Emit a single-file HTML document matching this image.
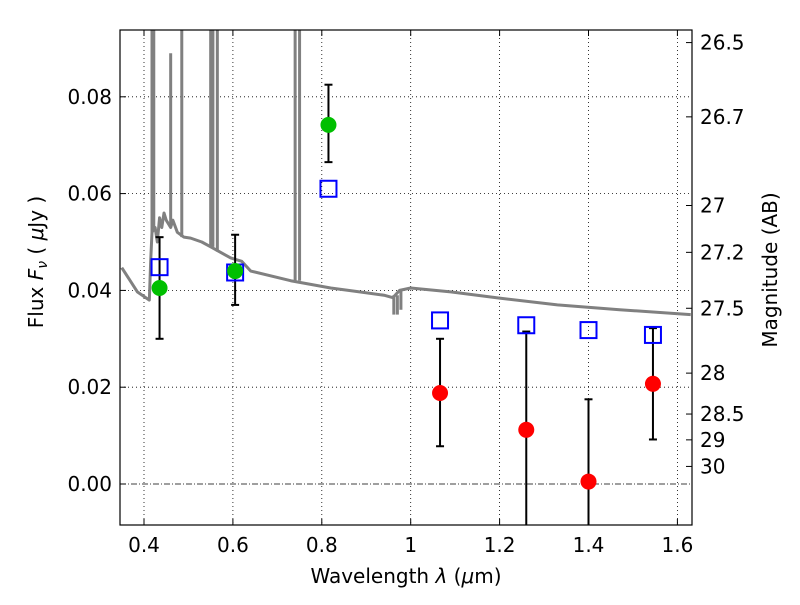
<!DOCTYPE html>
<html><head><meta charset="utf-8"><style>body{margin:0;background:#fff}svg text{font-family:"DejaVu Sans","Liberation Sans",sans-serif}</style></head>
<body>
<svg id="c" width="800" height="600"></svg>
<script>
const xTicks=[0.4,0.6,0.8,1.0,1.2,1.4,1.6];
const xTickLabels=["0.4","0.6","0.8","1","1.2","1.4","1.6"];
const yTicks=[0,0.02,0.04,0.06,0.08];
const yTickLabels=["0.00","0.02","0.04","0.06","0.08"];
const magTicks=[26.5,26.7,27,27.2,27.5,28,28.5,29,30];
const magTickLabels=["26.5","26.7","27","27.2","27.5","28","28.5","29","30"];
const specWave=[0.35,0.385,0.412,0.415,0.418,0.425,0.43,0.435,0.44,0.445,0.45,0.46,0.465,0.475,0.49,0.505,0.53,0.55,0.595,0.62,0.64,0.73,0.82,0.885,0.94,0.96,0.975,1.0,1.09,1.2,1.33,1.47,1.63];
const specFlux=[0.0447,0.0397,0.038,0.046,0.052,0.053,0.050,0.055,0.053,0.056,0.0545,0.053,0.0545,0.052,0.051,0.0508,0.050,0.049,0.0467,0.046,0.044,0.042,0.0405,0.0397,0.039,0.0385,0.040,0.0405,0.0397,0.0384,0.037,0.036,0.035];
const spikeWave=[0.418,0.422,0.46,0.485,0.55,0.555,0.565,0.74,0.75,0.962,0.97,0.978];
const spikeTop=[0.1,0.1,0.089,0.1,0.1,0.1,0.1,0.1,0.1,0.035,0.035,0.036];
const spikeBase=[0.052,0.053,0.053,0.051,0.049,0.049,0.048,0.042,0.042,0.039,0.039,0.040];
const greenWave=[0.435,0.605,0.815];
const greenFlux=[0.0405,0.044,0.0742];
const greenLo=[0.030,0.037,0.0665];
const greenHi=[0.051,0.0515,0.0825];
const redWave=[1.066,1.26,1.40,1.545];
const redFlux=[0.0188,0.0112,0.0005,0.0207];
const redLo=[0.0078,-0.012,-0.012,0.0092];
const redHi=[0.030,0.0315,0.0175,0.0322];
const modelWave=[0.435,0.605,0.815,1.066,1.26,1.40,1.545];
const modelFlux=[0.0448,0.0437,0.061,0.0338,0.0328,0.0318,0.0308];

const L=120,R=692,T=30,B=525;
const X=v=>144+(v-0.4)*444.5;
const Y=v=>484-v*4840;
const svg=document.getElementById('c');
const NS='http://www.w3.org/2000/svg';
function mk(tag,at,parent){const e=document.createElementNS(NS,tag);for(const k in at)e.setAttribute(k,at[k]);(parent||svg).appendChild(e);return e;}
const defs=mk('defs',{});const cp=mk('clipPath',{id:'clip'},defs);mk('rect',{x:L,y:T,width:R-L,height:B-T},cp);
const g=mk('g',{'clip-path':'url(#clip)'});


xTicks.forEach(v=>{const l=mk('line',{x1:X(v),x2:X(v),y1:T,y2:B,stroke:'#000','stroke-width':0.8,'stroke-dasharray':'1,3'},g);

});
yTicks.forEach(v=>{if(v===0)return;const l=mk('line',{x1:L,x2:R,y1:Y(v),y2:Y(v),stroke:'#000','stroke-width':0.8,'stroke-dasharray':'1,3'},g);

});
const z=mk('line',{x1:L,x2:R,y1:Y(0),y2:Y(0),stroke:'#000','stroke-width':0.8,'stroke-dasharray':'6,2,1,2'},g);


const sp=mk('polyline',{points:specWave.map((w,i)=>X(w)+','+Y(specFlux[i])).join(' '),fill:'none',stroke:'#808080','stroke-width':3,'stroke-linejoin':'round'},g);


spikeWave.forEach((w,i)=>{const l=mk('line',{x1:X(w),x2:X(w),y1:Y(spikeBase[i]),y2:Y(spikeTop[i]),stroke:'#808080','stroke-width':3},g);

});
function err(x,lo,hi){mk('line',{x1:x,x2:x,y1:Y(lo),y2:Y(hi),stroke:'#000','stroke-width':2},g);
[lo,hi].forEach(v=>mk('line',{x1:x-4,x2:x+4,y1:Y(v),y2:Y(v),stroke:'#000','stroke-width':2},g));}
greenWave.forEach((w,i)=>err(X(w),greenLo[i],greenHi[i]));
redWave.forEach((w,i)=>err(X(w),redLo[i],redHi[i]));
modelWave.forEach((w,i)=>{const r=mk('rect',{x:X(w)-8,y:Y(modelFlux[i])-8,width:16,height:16,fill:'none',stroke:'#0000ff','stroke-width':2},g);

});
greenWave.forEach((w,i)=>{const c=mk('circle',{cx:X(w),cy:Y(greenFlux[i]),r:8,fill:'#00bf00'},g);

});
redWave.forEach((w,i)=>{const c=mk('circle',{cx:X(w),cy:Y(redFlux[i]),r:8,fill:'#ff0000'},g);

});
const fr=mk('rect',{x:L,y:T,width:R-L,height:B-T,fill:'none',stroke:'#000','stroke-width':1.2});


xTicks.forEach((v,i)=>{mk('line',{x1:X(v),x2:X(v),y1:B,y2:B-6,stroke:'#000'});mk('line',{x1:X(v),x2:X(v),y1:T,y2:T+6,stroke:'#000'});
const t=mk('text',{x:X(v),y:B+27,'text-anchor':'middle','font-size':20});t.textContent=xTickLabels[i];

});
yTicks.forEach((v,i)=>{mk('line',{x1:L,x2:L+6,y1:Y(v),y2:Y(v),stroke:'#000'});
const t=mk('text',{x:L-8,y:Y(v)+7,'text-anchor':'end','font-size':20});t.textContent=yTickLabels[i];

});
magTicks.forEach((m,i)=>{const y=Y(Math.pow(10,(23.9-m)/2.5));mk('line',{x1:R,x2:R-6,y1:y,y2:y,stroke:'#000'});
const t=mk('text',{x:R+8,y:y+7,'font-size':20});t.textContent=magTickLabels[i];

});
let t=mk('text',{x:406,y:583,'text-anchor':'middle','font-size':20});t.innerHTML='Wavelength  <tspan font-style="italic">λ</tspan> (<tspan font-style="italic">μ</tspan>m)';


t=mk('text',{x:0,y:0,'text-anchor':'middle','font-size':20,transform:'translate(43,262) rotate(-90)'});t.innerHTML='Flux  <tspan font-style="italic">F</tspan><tspan font-size="14" font-style="italic" dy="4">ν</tspan><tspan dy="-4">  ( </tspan><tspan font-style="italic">μ</tspan>Jy )';


t=mk('text',{x:0,y:0,'text-anchor':'middle','font-size':20,transform:'translate(777,270) rotate(-90)'});t.textContent='Magnitude (AB)';


</script>
</body></html>
